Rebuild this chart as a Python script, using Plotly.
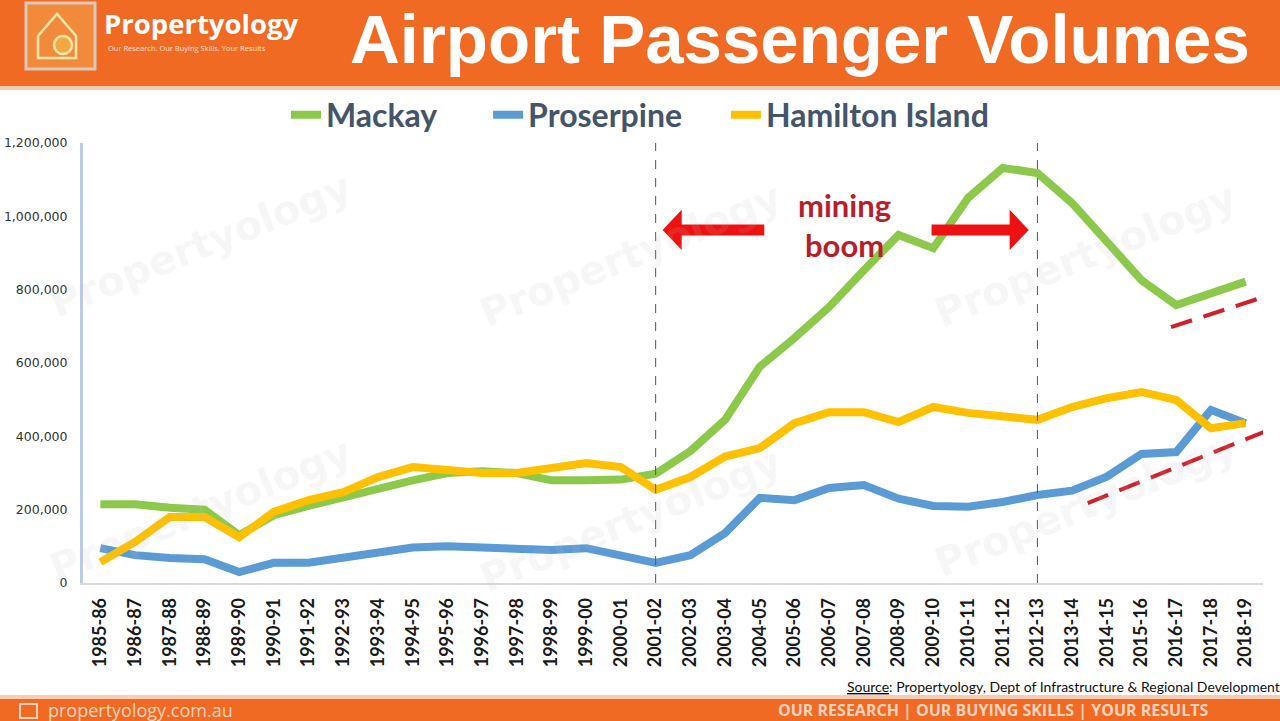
import plotly.graph_objects as go

years = ["1985-86","1986-87","1987-88","1988-89","1989-90","1990-91","1991-92","1992-93",
         "1993-94","1994-95","1995-96","1996-97","1997-98","1998-99","1999-00","2000-01",
         "2001-02","2002-03","2003-04","2004-05","2005-06","2006-07","2007-08","2008-09",
         "2009-10","2010-11","2011-12","2012-13","2013-14","2014-15","2015-16","2016-17",
         "2017-18","2018-19"]

mackay = [215000,215000,205000,200000,130000,185000,210000,235000,255000,280000,300000,
          305000,300000,280000,280000,282000,298000,360000,445000,590000,668000,753000,
          853000,949000,913000,1050000,1132000,1118000,1036000,935000,826000,758000,
          790000,822000]

proserpine = [95000,76000,68000,65000,30000,55000,55000,68000,85000,97000,100000,95000,
              90000,90000,95000,76000,55000,76000,136000,232000,226000,259000,267000,
              230000,210000,208000,221000,240000,252000,290000,352000,357000,472000,436000]

hamilton = [57000,112000,180000,180000,125000,194000,226000,248000,289000,316000,308000,
            300000,300000,314000,327000,316000,254000,289000,345000,368000,436000,466000,
            466000,439000,480000,464000,455000,445000,480000,504000,521000,499000,422000,436000]

ytick_vals = [0, 200000, 400000, 600000, 800000, 1000000, 1200000]
ytick_text = ["0", "200,000", "400,000", "600,000", "800,000", "1,000,000", "1,200,000"]

# layout geometry (pixels)
W, H = 1280, 721
PL, PR, PT, PB = 83, 1263, 143, 583


def px(x):
    return (x - PL) / (PR - PL)


def py(y):
    return (PB - y) / (PB - PT)


NB = "\u00a0"
fig = go.Figure()
for name, pad, vals, col in [("Mackay", 6, mackay, "#8CC94B"),
                             ("Proserpine", 5, proserpine, "#5B9BD5"),
                             ("Hamilton Island", 0, hamilton, "#FFC000")]:
    fig.add_trace(go.Scatter(x=years, y=vals, name=name + NB * pad, mode="lines",
                             line=dict(color=col, width=8)))

shapes = []
# header band
shapes.append(dict(type="rect", xref="paper", yref="paper", x0=px(0), x1=px(W), y0=py(86), y1=py(0),
                   fillcolor="#F06A24", line=dict(width=0), layer="below"))
shapes.append(dict(type="rect", xref="paper", yref="paper", x0=px(0), x1=px(W), y0=py(90), y1=py(86),
                   fillcolor="#F7C9AE", line=dict(width=0), layer="below"))
# footer band
shapes.append(dict(type="rect", xref="paper", yref="paper", x0=px(0), x1=px(W), y0=py(H), y1=py(699),
                   fillcolor="#F06A24", line=dict(width=0), layer="below"))
shapes.append(dict(type="rect", xref="paper", yref="paper", x0=px(0), x1=px(W), y0=py(699), y1=py(695),
                   fillcolor="#F8CDB4", line=dict(width=0), layer="below"))
# footer icon
shapes.append(dict(type="rect", xref="paper", yref="paper", x0=px(20), x1=px(37), y0=py(718), y1=py(704),
                   fillcolor="rgba(0,0,0,0)", line=dict(color="#FBD3BC", width=2)))
# logo box
shapes.append(dict(type="rect", xref="paper", yref="paper", x0=px(26), x1=px(95), y0=py(69), y1=py(3),
                   fillcolor="#F28A3C", line=dict(color="#D9C8BC", width=3), layer="above"))
# logo house outline
house = "M {a},{b} L {c},{d} L {e},{b} L {e},{f} L {a},{f} Z".format(
    a=px(38), b=py(36), c=px(57), d=py(14), e=px(76), f=py(58))
shapes.append(dict(type="path", xref="paper", yref="paper", path=house,
                   line=dict(color="#FFE7A8", width=2.5), fillcolor="rgba(0,0,0,0)"))
shapes.append(dict(type="circle", xref="paper", yref="paper", x0=px(54), x1=px(72), y0=py(54), y1=py(36),
                   line=dict(color="#FFE7A8", width=2.5), fillcolor="#F5A742"))
# vertical dashed lines
for xi in [16, 27]:
    shapes.append(dict(type="line", xref="x", yref="y", x0=xi, x1=xi, y0=0, y1=1200000,
                       line=dict(color="#555555", width=1, dash="dash")))
# red arrows (bodies + heads)
shapes.append(dict(type="line", xref="x", yref="y", x0=16.5, x1=19.13, y0=963000, y1=963000,
                   line=dict(color="#EE1111", width=11)))
shapes.append(dict(type="line", xref="x", yref="y", x0=23.95, x1=26.4, y0=963000, y1=963000,
                   line=dict(color="#EE1111", width=11)))
shapes.append(dict(type="path", xref="x", yref="y",
                   path="M 16.2,963000 L 16.75,1018000 L 16.75,908000 Z",
                   fillcolor="#EE1111", line=dict(width=0)))
shapes.append(dict(type="path", xref="x", yref="y",
                   path="M 26.75,963000 L 26.2,1018000 L 26.2,908000 Z",
                   fillcolor="#EE1111", line=dict(width=0)))
# red dashed trend lines
shapes.append(dict(type="line", xref="x", yref="y", x0=30.85, x1=34.0, y0=698000, y1=795000,
                   line=dict(color="#D0202A", width=4, dash="22px,12px")))
shapes.append(dict(type="line", xref="x", yref="y", x0=28.45, x1=34.0, y0=218000, y1=430000,
                   line=dict(color="#D0202A", width=4, dash="22px,12px")))

annotations = []
# faint watermarks
for (wx, wy) in [(200, 245), (630, 255), (1085, 255), (200, 510), (630, 520), (1085, 505)]:
    annotations.append(dict(xref="paper", yref="paper", x=px(wx), y=py(wy), text="<b>Propertyology</b>",
                            showarrow=False, textangle=-22, xanchor="center", yanchor="middle",
                            font=dict(family="DejaVu Sans", size=40, color="rgba(190,190,190,0.13)")))
annotations += [
    dict(xref="paper", yref="paper", x=px(800), y=py(40), text="<b>Airport Passenger Volumes</b>",
         showarrow=False, font=dict(family="Liberation Sans, Arial", size=69, color="white"),
         xanchor="center", yanchor="middle"),
    dict(xref="paper", yref="paper", x=px(102), y=py(23), text="<b>Propertyology</b>",
         showarrow=False, font=dict(family="Open Sans", size=27.5, color="white"),
         xanchor="left", yanchor="middle"),
    dict(xref="paper", yref="paper", x=px(106), y=py(48), text="Our Research. Our Buying Skills. Your Results",
         showarrow=False, font=dict(family="Open Sans", size=7.5, color="#FFE2CC"),
         xanchor="left", yanchor="middle"),
    dict(xref="paper", yref="paper", x=px(844), y=py(205), text="<b>mining</b>",
         showarrow=False, font=dict(family="Lato", size=31, color="#B81E2A"),
         xanchor="center", yanchor="middle"),
    dict(xref="paper", yref="paper", x=px(844), y=py(245), text="<b>boom</b>",
         showarrow=False, font=dict(family="Lato", size=31, color="#B81E2A"),
         xanchor="center", yanchor="middle"),
    dict(xref="paper", yref="paper", x=px(845), y=py(686),
         text="<u>Source</u>: Propertyology, Dept of Infrastructure &amp; Regional Development",
         showarrow=False, font=dict(family="Lato", size=14, color="#111111"),
         xanchor="left", yanchor="middle"),
    dict(xref="paper", yref="paper", x=px(46), y=py(710), text="propertyology.com.au",
         showarrow=False, font=dict(family="Open Sans", size=18, color="#FBD3BC"),
         xanchor="left", yanchor="middle"),
    dict(xref="paper", yref="paper", x=px(993), y=py(710), text="<b>OUR RESEARCH | OUR BUYING SKILLS | YOUR RESULTS</b>",
         showarrow=False, font=dict(family="Open Sans", size=16, color="#FBD3BC"),
         xanchor="center", yanchor="middle"),
]

fig.update_layout(
    width=W, height=H,
    margin=dict(l=PL, r=W - PR, t=PT, b=H - PB, autoexpand=False),
    paper_bgcolor="white", plot_bgcolor="white",
    showlegend=True,
    legend=dict(orientation="h", x=px(640), y=py(115), xanchor="center", yanchor="middle",
                font=dict(family="Lato", size=32, color="#44546A", weight="bold"),
                itemwidth=30, bgcolor="rgba(0,0,0,0)"),
    xaxis=dict(type="category", range=[-0.5, 33.5], showgrid=False, tickangle=-90,
               showline=True, linecolor="#D9D9D9", linewidth=1.5, ticks="", automargin=False,
               tickfont=dict(family="Lato", size=18, color="#1A1A1A", weight="bold"),
               ticklabelstandoff=6),
    yaxis=dict(range=[0, 1200000], tickvals=ytick_vals, ticktext=ytick_text, showgrid=False,
               zeroline=False, showline=True, linecolor="#B9CBE6", linewidth=3, ticks="",
               automargin=False,
               tickfont=dict(family="DejaVu Sans", size=12.5, color="#333333"),
               ticklabelstandoff=10),
    shapes=shapes, annotations=annotations,
)

fig.write_html("out.html")
